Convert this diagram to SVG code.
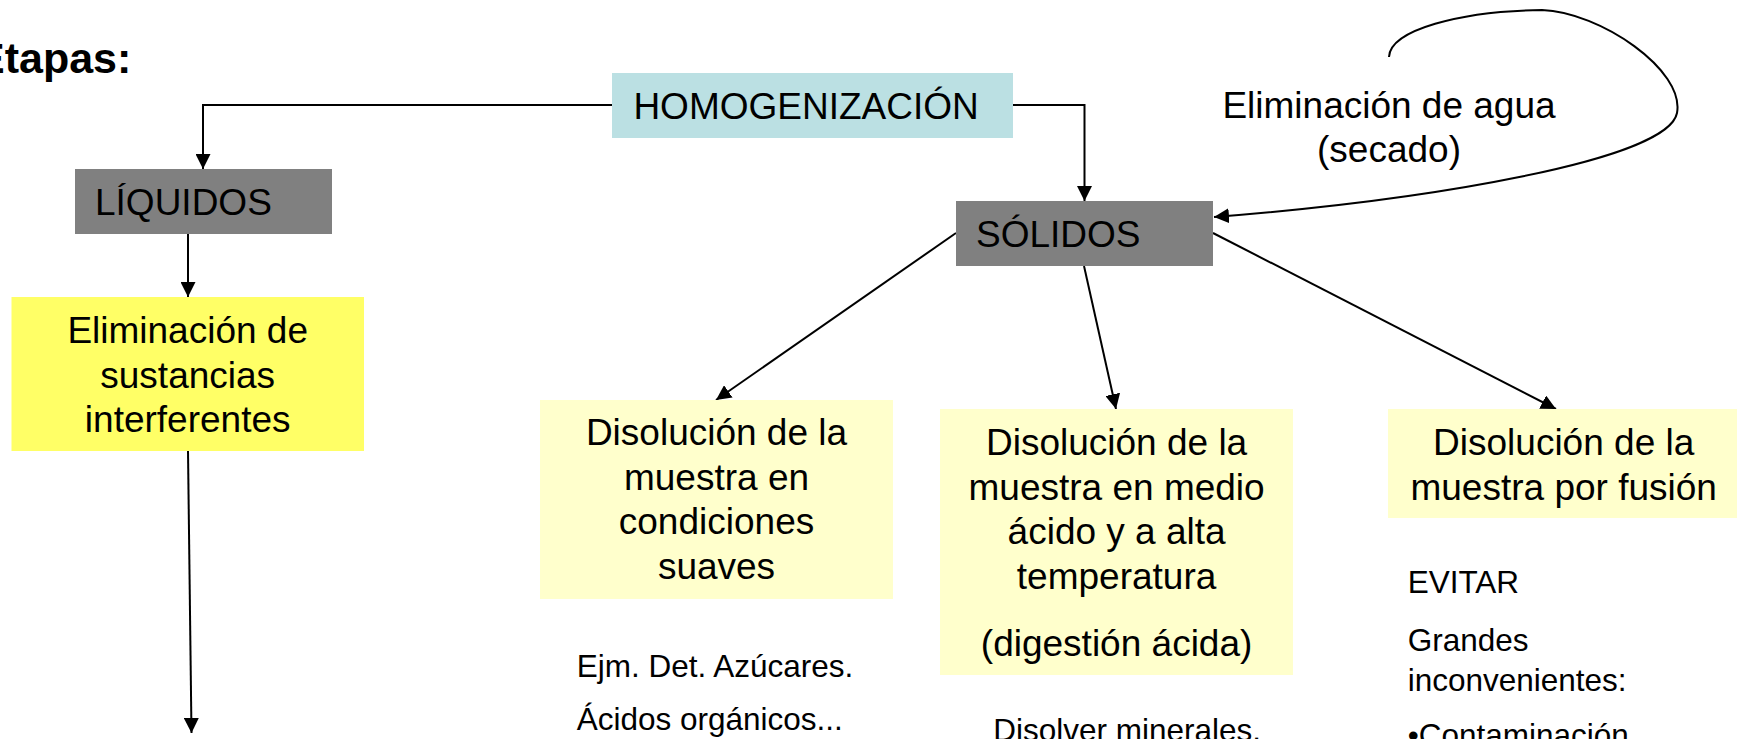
<svg xmlns="http://www.w3.org/2000/svg" width="1737" height="739" viewBox="0 0 1737 739">
<style>
  text { font-family: "Liberation Sans", Arial, sans-serif; fill: #000; }
  .big { font-size: 37px; }
  .small { font-size: 31.5px; }
  .mid { text-anchor: middle; }
  .grey { fill: #808080; }
  .blue { fill: #BBE0E3; }
  .yel { fill: #FFFF66; }
  .lyel { fill: #FFFFCC; }
  .conn { fill: none; stroke: #000; stroke-width: 2; }
</style>
<defs>
  <marker id="arr" viewBox="0 0 15 15" refX="15" refY="7.5" markerWidth="15" markerHeight="15" markerUnits="userSpaceOnUse" orient="auto">
    <path d="M0,0 L15,7.5 L0,15 z" fill="#000"/>
  </marker>
</defs>
<rect width="1737" height="739" fill="#fff"/>

<text id="title" x="-24" y="73" style="font-size:43px;font-weight:bold">Etapas:</text>

<g id="connectors">
  <path class="conn" d="M612,105 H203 V169" marker-end="url(#arr)"/>
  <path class="conn" d="M1013,105 H1084.5 V201" marker-end="url(#arr)"/>
  <path class="conn" d="M188,234 V297" marker-end="url(#arr)"/>
  <path class="conn" d="M188,451 L191.5,733" marker-end="url(#arr)"/>
  <path class="conn" d="M956,233 L716,400" marker-end="url(#arr)"/>
  <path class="conn" d="M1084,266 L1116,409" marker-end="url(#arr)"/>
  <path class="conn" d="M1213,233 L1556,409" marker-end="url(#arr)"/>
  <path class="conn" d="M1389,57 C1390,30 1460,11 1542,10 C1600,12 1685,70 1677,113 C1668,160 1430,200 1214,217" marker-end="url(#arr)"/>
</g>

<g id="homogenizacion">
  <rect class="blue" x="612" y="73" width="401" height="65"/>
  <text class="big" x="633.4" y="119">HOMOGENIZACIÓN</text>
</g>

<g id="liquidos">
  <rect class="grey" x="75" y="169" width="257" height="65"/>
  <text class="big" x="95" y="215">LÍQUIDOS</text>
</g>

<g id="solidos">
  <rect class="grey" x="956" y="201" width="257" height="65"/>
  <text class="big" x="976" y="246.7">SÓLIDOS</text>
</g>

<g id="secado">
  <text class="big mid" x="1389" y="118.3">Eliminación de agua</text>
  <text class="big mid" x="1389" y="162">(secado)</text>
</g>

<g id="eliminacion">
  <rect class="yel" x="11.5" y="297" width="352.5" height="154"/>
  <text class="big mid" x="187.7" y="342.7">Eliminación de</text>
  <text class="big mid" x="187.7" y="387.5">sustancias</text>
  <text class="big mid" x="187.7" y="431.7">interferentes</text>
</g>

<g id="disolucion-suave">
  <rect class="lyel" x="540" y="400" width="353" height="199"/>
  <text class="big mid" x="716.5" y="445">Disolución de la</text>
  <text class="big mid" x="716.5" y="489.5">muestra en</text>
  <text class="big mid" x="716.5" y="534">condiciones</text>
  <text class="big mid" x="716.5" y="578.5">suaves</text>
</g>

<g id="nota-suave">
  <text class="small" x="576.7" y="677">Ejm. Det. Azúcares.</text>
  <text class="small" x="576.7" y="730">Ácidos orgánicos...</text>
</g>

<g id="disolucion-acida">
  <rect class="lyel" x="940" y="409" width="353" height="266"/>
  <text class="big mid" x="1116.6" y="455">Disolución de la</text>
  <text class="big mid" x="1116.6" y="499.5">muestra en medio</text>
  <text class="big mid" x="1116.6" y="544">ácido y a alta</text>
  <text class="big mid" x="1116.6" y="588.5">temperatura</text>
  <text class="big mid" x="1116.6" y="656">(digestión ácida)</text>
</g>

<g id="nota-acida">
  <text class="small" x="993.3" y="741">Disolver minerales.</text>
</g>

<g id="disolucion-fusion">
  <rect class="lyel" x="1388" y="409" width="352" height="109"/>
  <text class="big mid" x="1563.7" y="455">Disolución de la</text>
  <text class="big mid" x="1563.7" y="500">muestra por fusión</text>
</g>

<g id="nota-fusion">
  <text class="small" x="1407.7" y="593.3">EVITAR</text>
  <text class="small" x="1407.7" y="650.7">Grandes</text>
  <text class="small" x="1407.7" y="690.5">inconvenientes:</text>
  <text class="small" x="1407.7" y="746">•Contaminación</text>
</g>
</svg>
